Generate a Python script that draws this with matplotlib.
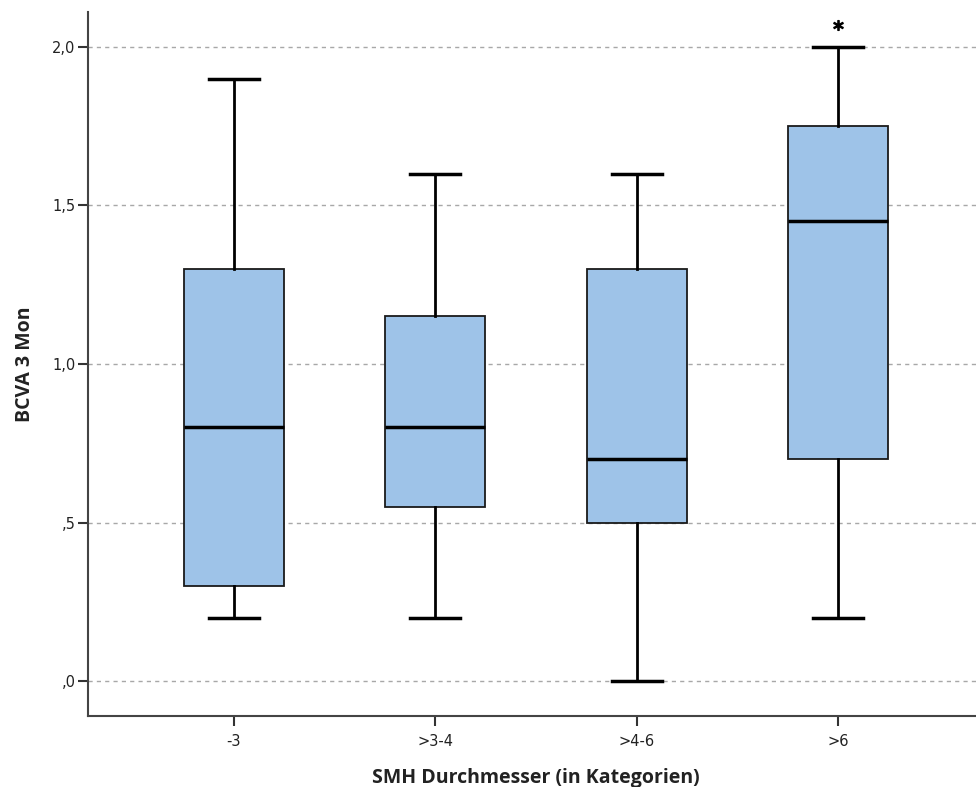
import matplotlib
matplotlib.use("Agg")
import matplotlib.pyplot as plt

# values
categories = ["-3", ">3-4", ">4-6", ">6"]
whisker_low = [0.20, 0.20, 0.00, 0.20]
q1 = [0.30, 0.55, 0.50, 0.70]
median = [0.80, 0.80, 0.70, 1.45]
q3 = [1.30, 1.15, 1.30, 1.75]
whisker_high = [1.90, 1.60, 1.60, 2.00]
outliers = [[], [], [], [2.07]]

yticks = [0.0, 0.5, 1.0, 1.5, 2.0]
ytick_labels = [",0", ",5", "1,0", "1,5", "2,0"]

stats = []
for i, cat in enumerate(categories):
    stats.append({
        "label": cat,
        "whislo": whisker_low[i],
        "q1": q1[i],
        "med": median[i],
        "q3": q3[i],
        "whishi": whisker_high[i],
        "fliers": outliers[i],
    })

fig = plt.figure(figsize=(9.76, 7.87), dpi=100)
ax = fig.add_axes([88 / 976, 1 - 716 / 787, (984 - 88) / 976, (716 - 12) / 787])

pos = list(range(len(categories)))
ax.bxp(stats, positions=pos, widths=0.495, patch_artist=True, showfliers=True,
       boxprops=dict(facecolor="#9ec3e8", edgecolor="#1a1a1a", linewidth=1.3),
       medianprops=dict(color="black", linewidth=2.5),
       whiskerprops=dict(color="black", linewidth=2.0),
       capprops=dict(color="black", linewidth=2.5),
       capwidths=0.25,
       flierprops=dict(marker="$*$", markersize=7, markerfacecolor="black",
                       markeredgecolor="black", linestyle="none"))

for y in yticks:
    ax.axhline(y, color="#a8a8a8", linestyle=(0, (3, 3)), linewidth=1.0, zorder=0)

ax.set_xlim(-0.725, 3.725)
ax.set_ylim(-0.11, 2.11)
ax.set_yticks(yticks)
ax.set_yticklabels(ytick_labels)
ax.set_xticks(pos)
ax.set_xticklabels(categories)

for s in ["top", "right"]:
    ax.spines[s].set_visible(False)
for s in ["left", "bottom"]:
    ax.spines[s].set_color("#444444")
    ax.spines[s].set_linewidth(1.5)

ax.tick_params(axis="both", direction="out", length=7, width=1.5, color="#333333",
               labelsize=10.5, labelcolor="#222222")
ax.tick_params(axis="x", pad=6)
ax.tick_params(axis="y", pad=2)

ax.set_xlabel("SMH Durchmesser (in Kategorien)", fontsize=14, fontweight="bold",
              family="Open Sans", color="#222222", labelpad=14)
ax.set_ylabel("BCVA 3 Mon", fontsize=14, fontweight="bold",
              family="Open Sans", color="#222222", labelpad=12)

fig.savefig("out.png", dpi=100)
